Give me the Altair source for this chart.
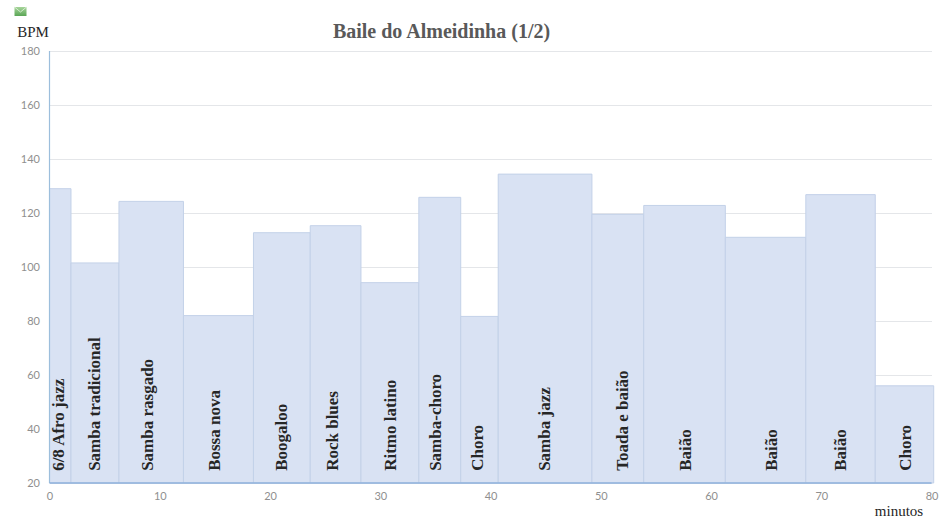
import altair as alt
import pandas as pd

# Track list of the set: rhythm, start and end minute, tempo
rhythms = ["6/8 Afro jazz", "Samba tradicional", "Samba rasgado", "Bossa nova", "Boogaloo",
           "Rock blues", "Ritmo latino", "Samba-choro", "Choro", "Samba jazz",
           "Toada e baião", "Baião", "Baião", "Baião", "Choro"]
starts = [0, 1.95, 6.3, 12.15, 18.5, 23.65, 28.25, 33.5, 37.3, 40.7, 49.2, 53.9, 61.3, 68.6, 74.9]
ends = [1.95, 6.3, 12.15, 18.5, 23.65, 28.25, 33.5, 37.3, 40.7, 49.2, 53.9, 61.3, 68.6, 74.9, 80.2]
bpm = [129, 101.5, 124.3, 82, 112.7, 115.3, 94.2, 125.8, 81.7, 134.4, 119.5, 122.8, 111, 126.8, 56]
label_minutes = [0.85, 4.15, 8.9, 15.05, 21.1, 25.75, 31, 35.1, 38.9, 44.9, 52, 57.7, 65.5, 71.8, 77.7]
baseline = 20
label_floor = 24.5

df = pd.DataFrame({
    "rhythm": rhythms, "start": starts, "end": ends, "bpm": bpm,
    "label_x": label_minutes, "floor": baseline, "label_y": label_floor,
})

GRID = "#e4e6e9"
TICK = "#8f8f8f"
AXIS_LEFT = "#9cbedc"
AXIS_BOTTOM = "#8fb2dc"
SERIF = "Liberation Serif"

x_scale = alt.Scale(domain=[0, 80], nice=False, clamp=False)
y_scale = alt.Scale(domain=[20, 180], nice=False)

bars = alt.Chart(df).mark_rect(
    fill="#d9e2f3", stroke="#c3d1e8", strokeWidth=1, clip=False
).encode(
    x=alt.X("start:Q", scale=x_scale, axis=alt.Axis(
        values=list(range(0, 90, 10)), grid=False, ticks=False, domain=False, labelFlush=False,
        labelColor=TICK, labelFont="Lato", labelFontSize=11, labelPadding=7,
        title="minutos", titleFont=SERIF, titleFontSize=15, titleFontWeight="normal",
        titleColor="#262626", titleX=849, titleY=32, titleAlign="center", titleBaseline="alphabetic",
    )),
    x2="end:Q",
    y=alt.Y("bpm:Q", scale=y_scale, axis=alt.Axis(
        values=list(range(20, 200, 20)), grid=True, gridColor=GRID, ticks=False, domain=False,
        labelFlush=False,
        labelColor=TICK, labelFont="Lato", labelFontSize=11, labelPadding=10,
        title="BPM", titleFont=SERIF, titleFontSize=15, titleFontWeight="normal",
        titleColor="#262626", titleAngle=0, titleX=-17, titleY=-15, titleAlign="center",
        titleBaseline="alphabetic",
    )),
    y2="floor:Q",
)

names = alt.Chart(df).mark_text(
    angle=270, align="left", baseline="middle", font=SERIF, fontSize=17,
    fontWeight="bold", color="#262626",
).encode(
    x=alt.X("label_x:Q", scale=x_scale),
    y=alt.Y("label_y:Q", scale=y_scale),
    text="rhythm:N",
)

# Axis lines drawn over the bars
left_line = alt.Chart(pd.DataFrame({"x": [0], "y": [20], "y2": [180]})).mark_rule(
    color=AXIS_LEFT, strokeWidth=1.2
).encode(x=alt.X("x:Q", scale=x_scale), y=alt.Y("y:Q", scale=y_scale), y2="y2:Q")

bottom_line = alt.Chart(pd.DataFrame({"x": [0], "x2": [80], "y": [20]})).mark_rule(
    color=AXIS_BOTTOM, strokeWidth=1.4
).encode(x=alt.X("x:Q", scale=x_scale), x2="x2:Q", y=alt.Y("y:Q", scale=y_scale))

# Small envelope glyph in the top corner
envelope = alt.Chart(pd.DataFrame({"k": [0]})).mark_rect(
    fill=alt.Gradient(gradient="linear", x1=0, y1=0, x2=0, y2=1,
                      stops=[alt.GradientStop(color="#a6d59a", offset=0),
                             alt.GradientStop(color="#5aa555", offset=1)]),
    clip=False,
).encode(x=alt.value(-35), x2=alt.value(-23), y=alt.value(-44), y2=alt.value(-35))

flap = alt.Chart(pd.DataFrame({"k": [0, 1, 2], "px": [-35, -29, -23], "py": [-44, -39, -44]})).mark_line(
    color="#e6f3e2", strokeWidth=0.8, clip=False
).encode(x=alt.X("px:Q", scale=None), y=alt.Y("py:Q", scale=None), order="k:Q")

chart = (bars + left_line + bottom_line + names + envelope + flap).properties(
    width=882,
    height=432,
    autosize="none",
    padding={"left": 49.5, "top": 51, "right": 13.5, "bottom": 41},
    background="white",
    title=alt.TitleParams(
        "Baile do Almeidinha (1/2)", font=SERIF, fontSize=20, fontWeight="bold",
        color="#595959", anchor="middle", dx=-49, dy=48, offset=11,
    ),
).configure_view(stroke=None).resolve_scale(x="shared", y="shared")

chart.save("out.html", embed_options={"renderer": "svg", "actions": False})
